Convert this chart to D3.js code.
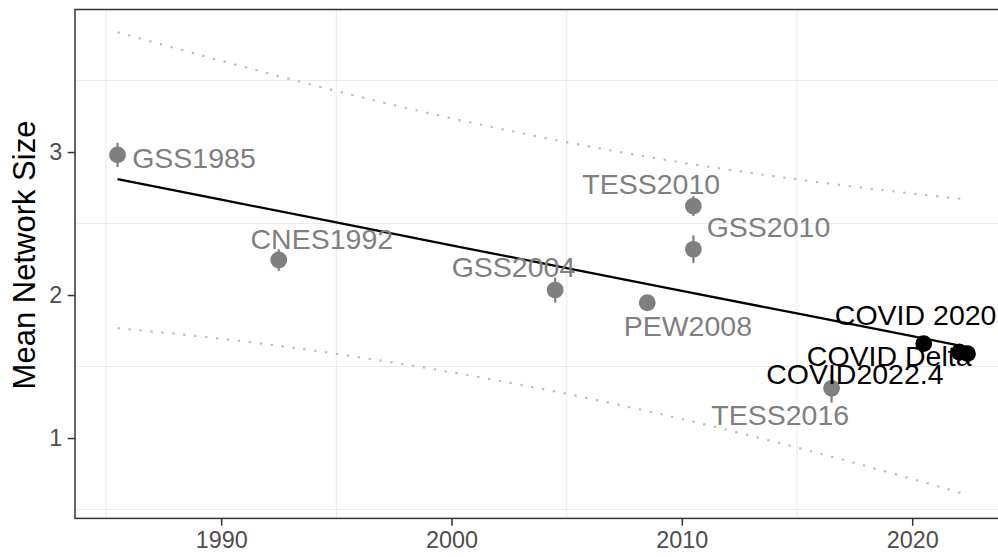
<!DOCTYPE html>
<html>
<head>
<meta charset="utf-8">
<script src="https://cdn.jsdelivr.net/npm/d3@7"></script>
<style>
  html, body { margin: 0; padding: 0; background: #ffffff; }
  svg { display: block; font-family: "Liberation Sans", Arial, Helvetica, sans-serif; }
</style>
</head>
<body>
<svg id="chart" width="998" height="557"></svg>
<script>
// ---- data ----
const surveys = ["GSS1985", "CNES1992", "GSS2004", "PEW2008", "TESS2010", "GSS2010", "TESS2016", "COVID 2020", "COVID Delta", "COVID2022.4"];
const years   = [1985.5, 1992.5, 2004.5, 2008.5, 2010.5, 2010.5, 2016.5, 2020.5, 2022.05, 2022.4];
const means   = [2.98, 2.245, 2.035, 1.946, 2.622, 2.32, 1.348, 1.66, 1.60, 1.59];
const errors  = [0.085, 0.075, 0.088, 0.04, 0.07, 0.097, 0.10, 0.04, 0.06, 0.05];
const isCovid = [false, false, false, false, false, false, false, true, true, true];
// label anchor (centre x, baseline y) in data units
const labelX  = [1988.82, 1994.37, 2002.69, 2010.26, 2008.67, 2013.76, 2014.27, 2020.15, 2019.0, 2017.51];
const labelY  = [2.89, 2.32, 2.128, 1.713, 2.706, 2.408, 1.091, 1.79, 1.503, 1.376];
// fitted trend and prediction band, read at these years
const fitYears = [1985.5, 1990, 1995, 2000, 2005, 2010, 2015, 2020, 2022.4];
const fitMean  = [2.810, 2.667, 2.508, 2.348, 2.189, 2.030, 1.871, 1.712, 1.635];
const fitUpper = [3.838, 3.639, 3.427, 3.236, 3.069, 2.927, 2.809, 2.710, 2.668];
const fitLower = [1.768, 1.695, 1.589, 1.460, 1.309, 1.133, 0.933, 0.714, 0.602];
// axes
const xTicks = [1990, 2000, 2010, 2020];
const yTicks = [1, 2, 3];
const xMinor = [1985, 1995, 2005, 2015];
const yMinor = [0.5, 1.5, 2.5, 3.5];
const yTitle = "Mean Network Size";

// ---- layout ----
const svg = d3.select("#chart");
const pLeft = 75, pRight = 1010, pTop = 9.5, pBottom = 518.4;
const x = d3.scaleLinear().domain([1983.655, 2024.245]).range([pLeft, pRight]);
const y = d3.scaleLinear().domain([0.438, 3.997]).range([pBottom, pTop]);
const grey = "#7f7f7f";

// minor grid
svg.append("g").selectAll("line").data(xMinor).join("line")
  .attr("x1", d => x(d)).attr("x2", d => x(d)).attr("y1", pTop).attr("y2", pBottom)
  .attr("stroke", "#ebebeb").attr("stroke-width", 1.1);
svg.append("g").selectAll("line").data(yMinor).join("line")
  .attr("x1", pLeft).attr("x2", pRight).attr("y1", d => y(d)).attr("y2", d => y(d))
  .attr("stroke", "#ebebeb").attr("stroke-width", 1.1);

const fitData = fitYears.map((yr, i) => ({yr, m: fitMean[i], u: fitUpper[i], l: fitLower[i]}));

// prediction band (dotted)
["u", "l"].forEach(k => {
  svg.append("path").datum(fitData)
    .attr("d", d3.line().curve(d3.curveMonotoneX).x(d => x(d.yr)).y(d => y(d[k])))
    .attr("fill", "none").attr("stroke", "#bdbdbd").attr("stroke-width", 2.2)
    .attr("stroke-dasharray", "2.3 8.7");
});
// trend line
svg.append("path").datum(fitData)
  .attr("d", d3.line().x(d => x(d.yr)).y(d => y(d.m)))
  .attr("fill", "none").attr("stroke", "#000").attr("stroke-width", 2.3);

const pts = surveys.map((s, i) => ({s, yr: years[i], m: means[i], e: errors[i], c: isCovid[i], lx: labelX[i], ly: labelY[i]}));

// error bars
svg.append("g").selectAll("line").data(pts).join("line")
  .attr("x1", d => x(d.yr)).attr("x2", d => x(d.yr))
  .attr("y1", d => y(d.m - d.e)).attr("y2", d => y(d.m + d.e))
  .attr("stroke", d => d.c ? "#000" : grey).attr("stroke-width", 2.2);
// points
svg.append("g").selectAll("circle").data(pts).join("circle")
  .attr("cx", d => x(d.yr)).attr("cy", d => y(d.m)).attr("r", 8.4)
  .attr("fill", d => d.c ? "#000" : grey);

// panel border
svg.append("rect").attr("x", pLeft).attr("y", pTop)
  .attr("width", pRight - pLeft).attr("height", pBottom - pTop)
  .attr("fill", "none").attr("stroke", "#333333").attr("stroke-width", 1.5);

// axes
const xAxis = svg.append("g").attr("transform", `translate(0,${pBottom})`)
  .call(d3.axisBottom(x).tickValues(xTicks).tickFormat(d3.format("d")).tickSize(7.3).tickPadding(5.5));
const yAxis = svg.append("g").attr("transform", `translate(${pLeft},0)`)
  .call(d3.axisLeft(y).tickValues(yTicks).tickFormat(d3.format("d")).tickSize(7.3).tickPadding(5.5));
[xAxis, yAxis].forEach(a => {
  a.select(".domain").remove();
  a.selectAll(".tick line").attr("stroke", "#333333").attr("stroke-width", 1.5);
  a.selectAll(".tick text").attr("fill", "#4d4d4d").style("font-size", "23.4px")
    .style("font-family", "'Liberation Sans', Arial, sans-serif");
});

// y title
svg.append("text")
  .attr("transform", `translate(35,255) rotate(-90)`)
  .attr("text-anchor", "middle").attr("fill", "#000")
  .style("font-size", "31px").text(yTitle);

// labels
svg.append("g").selectAll("text").data(pts).join("text")
  .attr("x", d => x(d.lx)).attr("y", d => y(d.ly))
  .attr("text-anchor", "middle")
  .attr("fill", d => d.c ? "#000" : grey)
  .style("font-size", "28.5px")
  .text(d => d.s);
</script>
</body>
</html>
